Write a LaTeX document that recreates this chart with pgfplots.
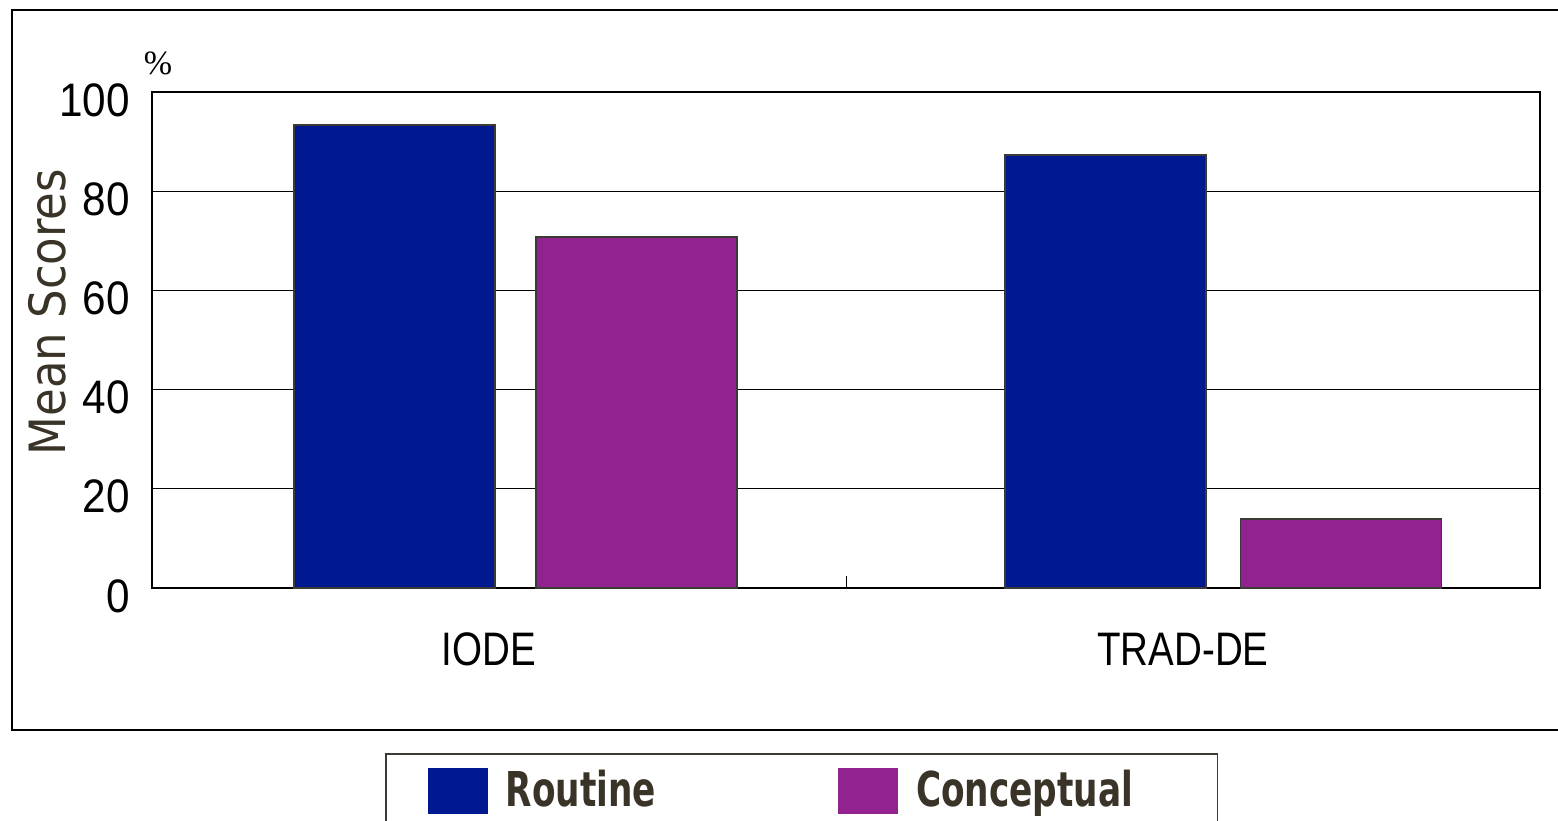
\documentclass[border=0pt]{standalone}
\usepackage{fontspec}
\setmainfont{Liberation Sans}
\newfontfamily\narrowfont[FakeStretch=0.82]{Liberation Sans}
\newfontfamily\numfont[FakeStretch=0.9]{Liberation Sans}
\newfontfamily\labelfont[FakeStretch=0.9]{DejaVu Sans}
\newfontfamily\legfont[FakeStretch=0.715]{DejaVu Sans}
\newfontfamily\seriffont{Liberation Serif}
\usepackage{pgfplots}
\pgfplotsset{compat=1.18}
\definecolor{routine}{HTML}{001890}
\definecolor{concept}{HTML}{92228F}
\definecolor{edge}{HTML}{3B3A35}
\definecolor{labcol}{HTML}{3A3428}
\begin{document}
\begin{tikzpicture}
\draw[line width=0.8pt] (6pt,45pt) rectangle (795pt,405pt);
\begin{axis}[
  at={(76pt,116pt)}, anchor=south west,
  scale only axis, width=694pt, height=248pt,
  xmin=-0.5, xmax=1.5, ymin=0, ymax=100,
  ytick={0,20,40,60,80,100},
  xtick={0,1}, xticklabels={IODE,TRAD-DE},
  xtick pos=bottom, ytick pos=left,
  ymajorgrids, grid style={black, line width=0.5pt},
  major tick length=0pt,
  extra x ticks={0.5}, extra x tick labels={},
  extra x tick style={major tick length=6pt, tick align=inside, grid=none, tick style={black, line width=0.5pt}},
  axis line style={black, line width=0.6pt},
  ybar, bar width=100.5pt,
  /pgf/number format/assume math mode=true,
  yticklabel style={font=\numfont\fontsize{23.5}{24}\selectfont, yshift=-4pt, xshift=-7.5pt},
  xticklabel style={font=\narrowfont\fontsize{23.5}{24}\selectfont, yshift=-19pt, xshift=-5pt},
  ylabel={Mean Scores},
  ylabel style={at={(axis description cs:-0.0757,0.556)}, anchor=center, font=\labelfont\fontsize{25}{26}\selectfont, text=labcol},
  legend columns=2,
  legend image code/.code={\fill[#1,draw=none] (0pt,-12pt) rectangle (30pt,11pt);},
  legend style={at={(rel axis cs:0.1679,-0.3327)}, anchor=north west, draw=edge, line width=0.8pt,
    font=\legfont\bfseries\fontsize{24}{26}\selectfont, text=labcol,
    inner xsep=21pt, inner ysep=6pt,
    /tikz/every odd column/.append style={column sep=7pt},
    /tikz/every even column/.append style={column sep=89pt}},
]
\addplot[fill=routine, draw=edge, line width=0.8pt, bar shift=0pt] coordinates {(-0.151,93.3) (0.874,87.3)};
\addplot[fill=concept, draw=edge, line width=0.8pt, bar shift=0pt] coordinates {(0.198,70.8) (1.213,13.9)};
\legend{Routine, Conceptual\kern19pt}
\end{axis}
\node at (79pt,378.5pt) {\seriffont\fontsize{17}{17}\selectfont\%};
\pgfresetboundingbox
\path[use as bounding box] (0pt,0pt) rectangle (779pt,410pt);
\end{tikzpicture}
\end{document}
